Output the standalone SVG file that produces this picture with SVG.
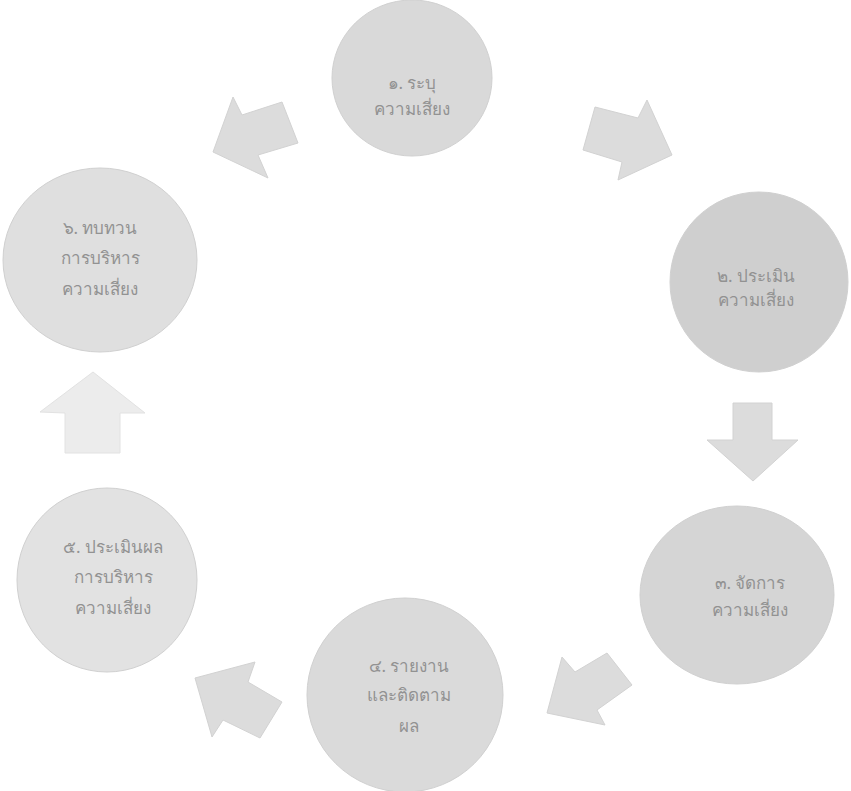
<svg xmlns="http://www.w3.org/2000/svg" width="851" height="791" viewBox="0 0 851 791">
<style>
.bg{fill:#ffffff}
.node{stroke:#d0d0d0;stroke-width:1}
.lbl{font-family:"Noto Sans","DejaVu Sans",sans-serif;font-size:17px;font-weight:normal;fill:#929292;text-anchor:middle}
.arr{fill:#dcdcdc;stroke:#d2d2d2;stroke-width:1}
</style>
<rect class="bg" x="0" y="0" width="851" height="791"/>
<g id="connectors">
<polygon id="a61" class="arr" points="213,152 233,97 242,115 282,102 298,143 258,155 268,178"/>
<polygon id="a12" class="arr" points="583,150 595,107 638,118 647,100 672,155 618,180 622,162"/>
<polygon id="a23" class="arr" points="733,403 772,403 772,440 798,440 753,481 707,440 733,440"/>
<polygon id="a34" class="arr" points="547,713 562,657 575,672 607,653 632,685 597,710 605,725"/>
<polygon id="a45" class="arr" points="195,678 255,662 248,682 282,702 260,738 223,720 212,737"/>
<polygon id="a56" class="arr" style="fill:#ececec;stroke:#e2e2e2" points="93,372 145,413 120,413 120,453 65,453 65,413 40,412"/>
</g>
<g id="n1">
<ellipse class="node" cx="412" cy="78" rx="80" ry="78" fill="#d9d9d9"/>
<text class="lbl" x="412" y="89">๑. ระบุ</text>
<text class="lbl" x="412" y="115">ความเสี่ยง</text>
</g>
<g id="n2">
<ellipse class="node" cx="759" cy="282" rx="89" ry="90" fill="#cfcfcf"/>
<text class="lbl" x="756" y="282">๒. ประเมิน</text>
<text class="lbl" x="756" y="306">ความเสี่ยง</text>
</g>
<g id="n3">
<ellipse class="node" cx="737" cy="595" rx="97" ry="89" fill="#d5d5d5"/>
<text class="lbl" x="750" y="589">๓. จัดการ</text>
<text class="lbl" x="750" y="616">ความเสี่ยง</text>
</g>
<g id="n4">
<ellipse class="node" cx="405" cy="695" rx="98" ry="97" fill="#dadada"/>
<text class="lbl" x="409" y="672">๔. รายงาน</text>
<text class="lbl" x="409" y="701">และติดตาม</text>
<text class="lbl" x="409" y="732">ผล</text>
</g>
<g id="n5">
<ellipse class="node" cx="107" cy="580" rx="90" ry="92" fill="#e2e2e2"/>
<text class="lbl" x="113" y="553">๕. ประเมินผล</text>
<text class="lbl" x="113" y="583">การบริหาร</text>
<text class="lbl" x="113" y="614">ความเสี่ยง</text>
</g>
<g id="n6">
<ellipse class="node" cx="100" cy="260" rx="97" ry="92" fill="#dfdfdf"/>
<text class="lbl" x="100" y="234">๖. ทบทวน</text>
<text class="lbl" x="100" y="264">การบริหาร</text>
<text class="lbl" x="100" y="295">ความเสี่ยง</text>
</g>
</svg>
